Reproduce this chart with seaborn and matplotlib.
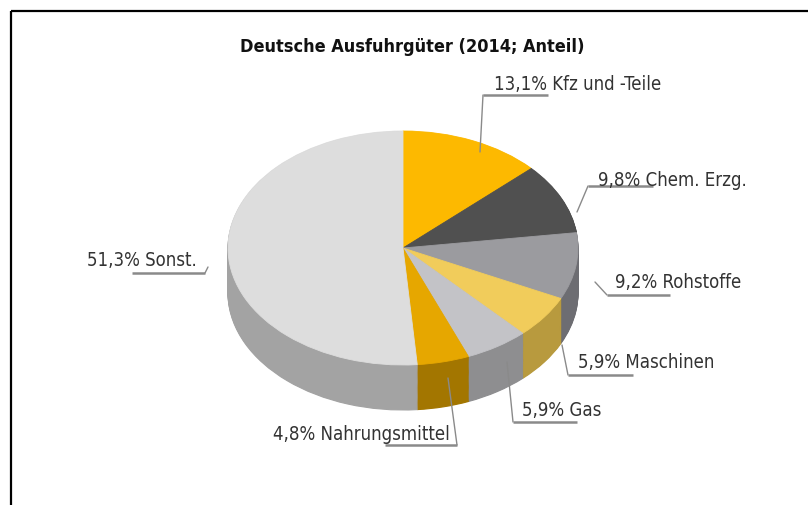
import numpy as np
import matplotlib
matplotlib.use("Agg")
import matplotlib.pyplot as plt
from matplotlib import font_manager
from matplotlib.font_manager import FontProperties
import seaborn as sns

# ---------------- data ----------------
categories = ["Kfz und -Teile", "Chem. Erzg.", "Rohstoffe", "Maschinen",
              "Gas", "Nahrungsmittel", "Sonst."]
shares = [13.1, 9.8, 9.2, 5.9, 5.9, 4.8, 51.3]
title = "Deutsche Ausfuhrgüter (2014; Anteil)"

# ---------------- styles ----------------
top_colors = ["#FDB900", "#505050", "#9B9B9F", "#F1CC5B", "#C3C3C7", "#E6A700", "#DDDDDD"]
side_colors = ["#B08200", "#383838", "#6D6D72", "#B89A3E", "#8E8E90", "#A37600", "#A3A3A3"]

# ---------------- layout (pixels) ----------------
W, H = 808, 505
CX, CY = 403, 248          # centre of top ellipse
RX, RY = 175, 117          # semi axes of top ellipse
DEPTH = 45                 # height of pie side
label_pos = [(494, 85), (598, 180), (615, 283), (578, 363), (522, 410), (273, 435), (87, 260)]
label_w = [171, 145, 127, 137, 78, 176, 110]
leaders = [
    [(480, 152), (483, 95), (548, 95)],
    [(577, 212), (588, 186), (653, 186)],
    [(595, 282), (607, 295), (670, 295)],
    [(562, 345), (568, 375), (633, 375)],
    [(507, 362), (513, 422), (577, 422)],
    [(448, 378), (457, 445), (385, 445)],
    [(208, 267), (205, 273), (132, 273)],
]
TITLE_X, TITLE_Y, TITLE_W = 412, 47, 345

sns.set_style("white")


def pick_font(bold):
    prefer = ["Liberation Sans Narrow", "DejaVu Sans Condensed", "DejaVu Sans",
              "Roboto Condensed", "Open Sans Condensed", "Noto Sans Condensed",
              "Noto Sans", "Roboto"]
    cands = []
    for f in font_manager.fontManager.ttflist:
        stretch = str(f.stretch)
        cond = ("Narrow" in f.name or "Condensed" in f.name or
                stretch in ("condensed", "semi-condensed", "extra-condensed"))
        if not cond or f.style != "normal":
            continue
        try:
            w = int(f.weight)
        except Exception:
            w = 700 if "bold" in str(f.weight) else 400
        if bold and w < 600:
            continue
        if not bold and (w < 350 or w > 500):
            continue
        rank = prefer.index(f.name) if f.name in prefer else 99
        cands.append((rank, f.fname))
    if cands:
        cands.sort()
        return FontProperties(fname=cands[0][1])
    return FontProperties(family="DejaVu Sans", weight="bold" if bold else "normal")


fp_label = pick_font(False)
fp_title = pick_font(True)

fig = plt.figure(figsize=(W / 100, H / 100), dpi=100)
fig.patch.set_facecolor("white")

# pie axes: unit circle -> ellipse with semi axes RX, RY pixels
ax = fig.add_axes([0, 0, 1, 1])
depth_u = DEPTH / RY
n_layers = 48
for k in range(n_layers):
    dy = -depth_u * (1 - k / n_layers)
    wedges, _ = ax.pie(shares, colors=side_colors, startangle=90, counterclock=False,
                       radius=1.0, center=(0, dy), wedgeprops=dict(linewidth=0.8))
    for w in wedges:
        w.set_edgecolor(w.get_facecolor())
        w.set_zorder(1 + k * 0.01)
wedges, _ = ax.pie(shares, colors=top_colors, startangle=90, counterclock=False,
                   radius=1.0, center=(0, 0), wedgeprops=dict(linewidth=0.6))
for w in wedges:
    w.set_edgecolor(w.get_facecolor())
    w.set_zorder(3)
ax.set_aspect("auto")
ax.set_xlim(-CX / RX, (W - CX) / RX)
ax.set_ylim(-(H - CY) / RY, CY / RY)
ax.axis("off")

# overlay axes in pixel coordinates for labels
ov = fig.add_axes([0, 0, 1, 1], facecolor="none")
ov.set_xlim(0, W)
ov.set_ylim(H, 0)
ov.axis("off")

# border (top and left only)
ov.plot([10.5, W], [10.5, 10.5], color="black", lw=1.6, solid_capstyle="butt")
ov.plot([10.5, 10.5], [10.5, H], color="black", lw=1.6, solid_capstyle="butt")

texts = []
for name, v, (x, y) in zip(categories, shares, label_pos):
    s = f"{v:.1f}".replace(".", ",") + "% " + name
    t = ov.text(x, y, s, ha="left", va="center", fontproperties=fp_label,
                fontsize=10, color="#333333")
    texts.append(t)
tt = fig.text(TITLE_X / W, 1 - TITLE_Y / H, title, ha="center", va="center",
              fontproperties=fp_title, fontsize=10, color="#111111")

fig.canvas.draw()
r = fig.canvas.get_renderer()
ratios = [tw / t.get_window_extent(r).width for t, tw in zip(texts, label_w)]
fs = 10 * float(np.median(ratios))
for t in texts:
    t.set_fontsize(fs)
tt.set_fontsize(10 * TITLE_W / tt.get_window_extent(r).width)

for pts in leaders:
    xs = [p[0] for p in pts]
    ys = [p[1] for p in pts]
    ov.plot(xs[:2], ys[:2], color="#8a8a8a", lw=1.0)
    ov.plot(xs[1:], ys[1:], color="#8a8a8a", lw=1.8, solid_capstyle="butt")

fig.savefig("out.png", dpi=100, facecolor="white")
